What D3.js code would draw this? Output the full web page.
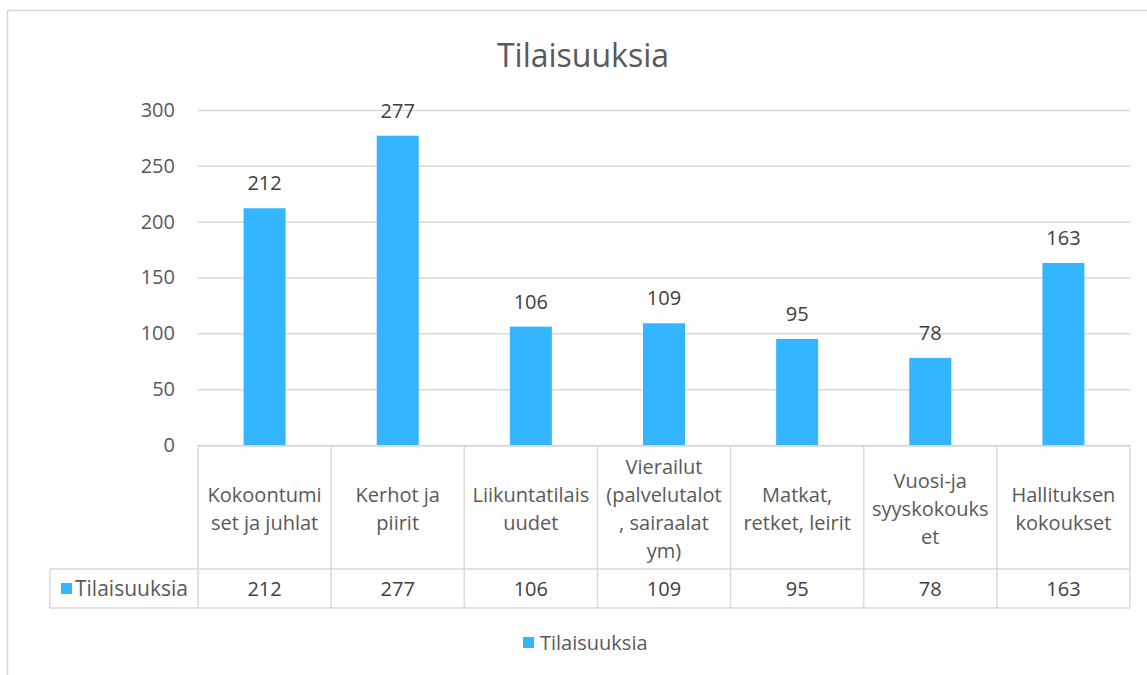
<!DOCTYPE html>
<html>
<head>
<meta charset="utf-8">
<script src="https://cdn.jsdelivr.net/npm/d3@7"></script>
<style>
  body { margin: 0; background: #fff; }
  svg { font-family: "Open Sans", "Noto Sans", sans-serif; }
</style>
</head>
<body>
<svg id="chart"></svg>
<script>
// data
const categories = [
    "Kokoontumi\nset ja juhlat",
    "Kerhot ja\npiirit",
    "Liikuntatilais\nuudet",
    "Vierailut\n(palvelutalot\n, sairaalat\nym)",
    "Matkat,\nretket, leirit",
    "Vuosi-ja\nsyyskokouks\net",
    "Hallituksen\nkokoukset"
];
const values = [212, 277, 106, 109, 95, 78, 163];
const yTicks = [0, 50, 100, 150, 200, 250, 300];
const seriesName = "Tilaisuuksia";
const title = "Tilaisuuksia";

const width = 1147, height = 675;
const barColor = "#33b5ff";
const gridColor = "#d9d9d9";
const textColor = "#595959";
const fs = 20;

const svg = d3.select("#chart")
    .attr("width", width)
    .attr("height", height);

// outer chart border
svg.append("rect")
    .attr("x", 7.5).attr("y", 10.5)
    .attr("width", 1200).attr("height", 800)
    .attr("fill", "none")
    .attr("stroke", gridColor)
    .attr("stroke-width", 1.5);

const plotL = 198, plotR = 1130, plotT = 110, plotB = 445;
const headRow = 569, valRow = 608;

const x = d3.scaleBand()
    .domain(categories)
    .range([plotL, plotR])
    .paddingInner(0)
    .paddingOuter(0);

const y = d3.scaleLinear()
    .domain([0, 300])
    .range([plotB, plotT]);

// title
svg.append("text")
    .attr("x", 583).attr("y", 67)
    .attr("text-anchor", "middle")
    .attr("font-size", 32)
    .attr("fill", textColor)
    .text(title);

// gridlines
svg.append("g")
    .selectAll("line")
    .data(yTicks)
    .join("line")
    .attr("x1", plotL).attr("x2", plotR)
    .attr("y1", d => y(d) + 0.5).attr("y2", d => y(d) + 0.5)
    .attr("stroke", gridColor)
    .attr("stroke-width", 1.5);

// y axis labels
const yAxis = d3.axisLeft(y).tickValues(yTicks).tickSize(0).tickPadding(23);
const ya = svg.append("g")
    .attr("transform", `translate(${plotL},0)`)
    .call(yAxis);
ya.select(".domain").remove();
ya.selectAll("text")
    .attr("font-size", fs)
    .attr("font-family", "Open Sans, Noto Sans, sans-serif")
    .attr("fill", textColor);

// bars
const barW = 42;
svg.append("g")
    .selectAll("rect")
    .data(values)
    .join("rect")
    .attr("x", (d, i) => x(categories[i]) + x.bandwidth() / 2 - barW / 2)
    .attr("y", d => y(d))
    .attr("width", barW)
    .attr("height", d => plotB - y(d))
    .attr("fill", barColor);

// data labels
svg.append("g")
    .selectAll("text")
    .data(values)
    .join("text")
    .attr("x", (d, i) => x(categories[i]) + x.bandwidth() / 2)
    .attr("y", d => y(d) - 18)
    .attr("text-anchor", "middle")
    .attr("font-size", fs)
    .attr("fill", "#404040")
    .text(d => d);

// data table
const tbl = svg.append("g")
    .attr("stroke", gridColor)
    .attr("stroke-width", 1.5)
    .attr("fill", "none");
tbl.append("line").attr("x1", plotL).attr("x2", plotR).attr("y1", plotB + 1).attr("y2", plotB + 1);
tbl.append("line").attr("x1", 50).attr("x2", plotR).attr("y1", headRow).attr("y2", headRow);
tbl.append("line").attr("x1", 50).attr("x2", plotR).attr("y1", valRow).attr("y2", valRow);
tbl.append("line").attr("x1", 50).attr("x2", 50).attr("y1", headRow).attr("y2", valRow);
const edges = categories.map(c => x(c)).concat([plotR]);
tbl.selectAll("line.v")
    .data(edges)
    .join("line")
    .attr("class", "v")
    .attr("x1", d => d).attr("x2", d => d)
    .attr("y1", plotB + 1).attr("y2", valRow);

// header labels
const lineH = 28;
const heads = svg.append("g");
categories.forEach((c, i) => {
    const lines = c.split("\n");
    const cy = (plotB + headRow) / 2 + 9;
    const t = heads.append("text")
        .attr("text-anchor", "middle")
        .attr("font-size", fs)
        .attr("fill", textColor);
    lines.forEach((ln, j) => {
        t.append("tspan")
            .attr("x", x(c) + x.bandwidth() / 2)
            .attr("y", cy + (j - (lines.length - 1) / 2) * lineH)
            .text(ln);
    });
});

// value row
svg.append("g")
    .selectAll("text")
    .data(values)
    .join("text")
    .attr("x", (d, i) => x(categories[i]) + x.bandwidth() / 2)
    .attr("y", (headRow + valRow) / 2 + 7)
    .attr("text-anchor", "middle")
    .attr("font-size", fs)
    .attr("fill", "#404040")
    .text(d => d);

// row legend key
svg.append("rect")
    .attr("x", 61).attr("y", 583)
    .attr("width", 11).attr("height", 11)
    .attr("fill", barColor);
svg.append("text")
    .attr("x", 75).attr("y", (headRow + valRow) / 2 + 7)
    .attr("font-size", 21)
    .attr("fill", textColor)
    .text(seriesName);

// bottom legend
svg.append("rect")
    .attr("x", 523).attr("y", 637)
    .attr("width", 11).attr("height", 11)
    .attr("fill", barColor);
svg.append("text")
    .attr("x", 540).attr("y", 650)
    .attr("font-size", fs)
    .attr("fill", textColor)
    .text(seriesName);
</script>
</body>
</html>
